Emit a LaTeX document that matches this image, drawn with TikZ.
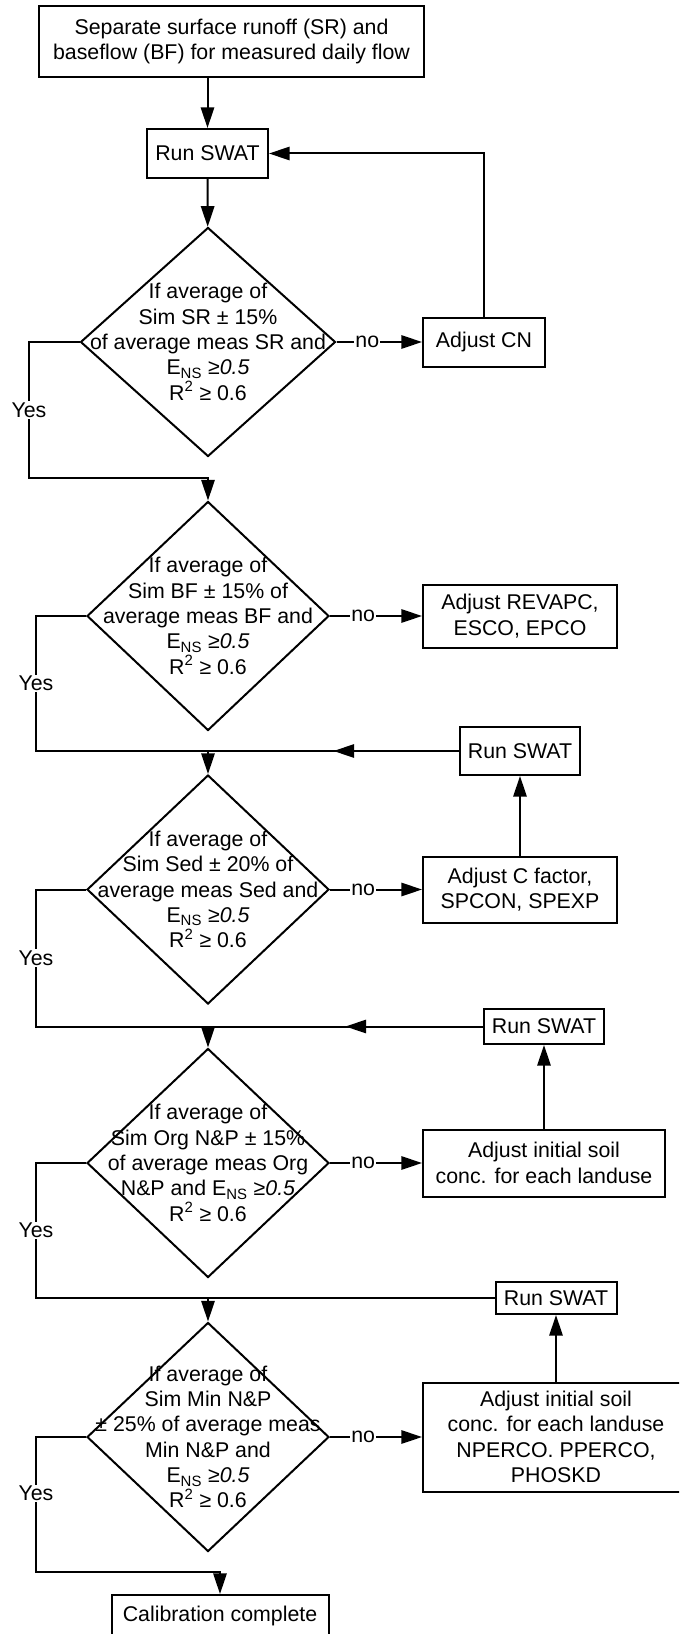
\documentclass[tikz,border=0pt]{standalone}
\usepackage{fontspec}
\setmainfont{Liberation Sans}
\usepackage{tikz}
\usetikzlibrary{positioning,arrows.meta,shapes.geometric,decorations.markings}

\begin{document}
\begin{tikzpicture}[x=0.75pt,y=-0.75pt,
    every node/.style={font=\fontsize{16pt}{19pt}\selectfont},
    box/.style={rectangle,draw,line width=1.5pt,inner sep=0pt,align=center},
    decision/.style={diamond,draw,line width=1.5pt,inner sep=0pt,minimum width=181.5pt,minimum height=171.75pt},
    dtext/.style={align=center,inner sep=0pt},
    lbl/.style={fill=white,inner sep=1pt},
    line/.style={line width=1.5pt},
    arr/.style={line,-{Triangle[length=15.5pt,width=10pt]}},
    midarr/.style={line,postaction={decorate},decoration={markings,mark=at position 0.5 with {\arrow{Triangle[length=15.5pt,width=10pt]}}}}
    ]
\useasboundingbox (0,0) rectangle (679,1634);
\clip (0,0) rectangle (679,1634);

\node[box,minimum width=288.75pt,minimum height=53.25pt] (start) at (231.5,41.5) {Separate surface runoff (SR) and\\baseflow (BF) for measured daily flow};
\node[box,minimum width=90.75pt,minimum height=36.75pt] (run1) at (207.5,153.5) {Run SWAT};
\node[decision,minimum width=191.25pt,label={[dtext]center:{If average of\\Sim SR ± 15\%\\of average meas SR and\\E\textsubscript{NS} ≥\textit{0.5}\\R\textsuperscript{2} ≥ 0.6}}] (dec1) at (208,342) {};
\node[box,minimum width=91.5pt,minimum height=36.75pt] (adjcn) at (484,342) {Adjust CN};

\node[decision,label={[dtext]center:{If average of\\Sim BF ± 15\% of\\average meas BF and\\E\textsubscript{NS} ≥\textit{0.5}\\R\textsuperscript{2} ≥ 0.6}}] (dec2) at (208,616) {};
\node[box,minimum width=145.5pt,minimum height=47.25pt] (adjrev) at (520,616) {Adjust REVAPC,\\ESCO, EPCO};
\node[box,minimum width=90pt,minimum height=36pt] (run2) at (520,751) {Run SWAT};

\node[decision,label={[dtext]center:{If average of\\Sim Sed ± 20\% of\\average meas Sed and\\E\textsubscript{NS} ≥\textit{0.5}\\R\textsuperscript{2} ≥ 0.6}}] (dec3) at (208,889.5) {};
\node[box,minimum width=145.5pt,minimum height=49.5pt] (adjc) at (520,889.5) {Adjust C factor,\\SPCON, SPEXP};
\node[box,minimum width=90pt,minimum height=26.25pt] (run3) at (544,1026.5) {Run SWAT};

\node[decision,label={[dtext]center:{If average of\\Sim Org N\&P ± 15\%\\of average meas Org\\N\&P and E\textsubscript{NS} ≥\textit{0.5}\\R\textsuperscript{2} ≥ 0.6}}] (dec4) at (208,1163) {};
\node[box,minimum width=181.5pt,minimum height=50.25pt] (adjsoil) at (544,1163) {Adjust initial soil\\conc. for each landuse};
\node[box,minimum width=90.75pt,minimum height=24pt] (run4) at (556,1298) {Run SWAT};

\node[decision,label={[dtext]center:{If average of\\Sim Min N\&P\\± 25\% of average meas\\Min N\&P and\\E\textsubscript{NS} ≥\textit{0.5}\\R\textsuperscript{2} ≥ 0.6}}] (dec5) at (208,1437) {};
\node[box,minimum width=199.5pt,minimum height=81.75pt] (adjperc) at (556,1437) {Adjust initial soil\\conc. for each landuse\\NPERCO. PPERCO,\\PHOSKD};
\node[box,minimum width=162.75pt,minimum height=30.75pt] (done) at (220,1615.5) {Calibration complete};

\coordinate (j1) at (29,478);
\coordinate (j2) at (36,751);
\coordinate (j3) at (36,1026.5);
\coordinate (j4) at (36,1298);
\coordinate (j5) at (36,1572);

\draw[arr] (start.south -| run1.north) -- (run1.north);
\draw[arr] (run1) -- (dec1);
\draw[arr] (dec1.east) -- node[lbl,pos=.36]{no} (adjcn.west);
\draw[arr] (adjcn.north) |- (run1.east);
\draw[arr] (dec1.west) -| node[lbl,pos=.75]{Yes} (j1) -| (dec2.north);

\draw[arr] (dec2.east) -- node[lbl,pos=.36]{no} (adjrev.west);
\draw[arr] (dec2.west) -| node[lbl,pos=.75]{Yes} (j2) -| (dec3.north);
\draw[midarr] (run2.west) -- (run2.west -| dec3.north);
\draw[arr] (adjc.north) -- (run2.south);

\draw[arr] (dec3.east) -- node[lbl,pos=.36]{no} (adjc.west);
\draw[arr] (dec3.west) -| node[lbl,pos=.75]{Yes} (j3) -| (dec4.north);
\draw[midarr] (run3.west) -- (run3.west -| dec4.north);
\draw[arr] (adjsoil.north) -- (run3.south);

\draw[arr] (dec4.east) -- node[lbl,pos=.36]{no} (adjsoil.west);
\draw[arr] (dec4.west) -| node[lbl,pos=.75]{Yes} (j4) -| (dec5.north);
\draw[line] (run4.west) -- (run4.west -| dec5.north);
\draw[arr] (adjperc.north) -- (run4.south);

\draw[arr] (dec5.east) -- node[lbl,pos=.36]{no} (adjperc.west);
\draw[arr] (dec5.west) -| node[lbl,pos=.71]{Yes} (j5) -| (done.north);
\end{tikzpicture}
\end{document}
